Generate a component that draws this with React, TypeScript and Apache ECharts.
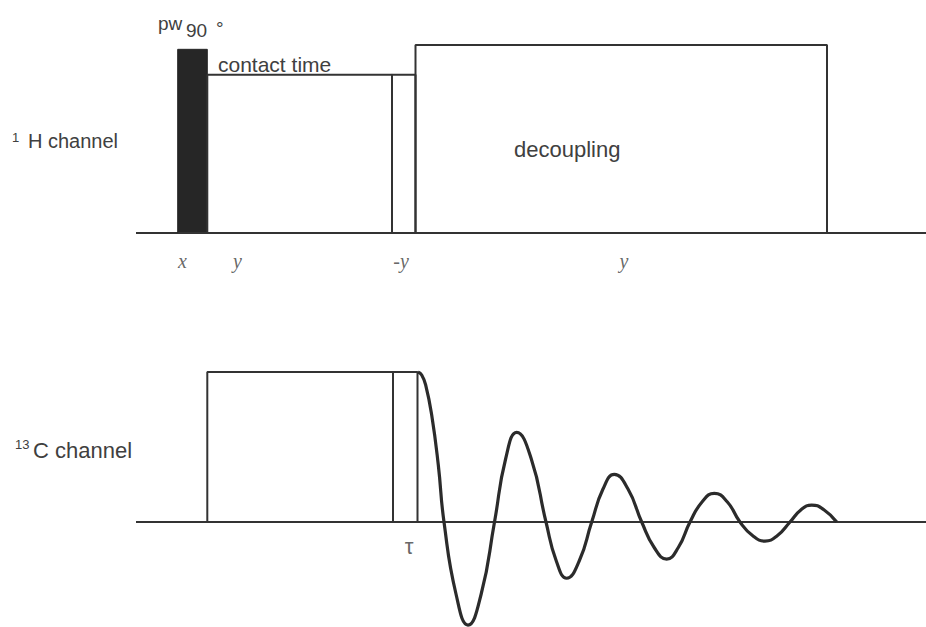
import React, { useEffect, useRef } from "react";
import * as echarts from "echarts";

// Time axis in arbitrary units (0 .. AXIS_END), shared by both channels.
const AXIS_END = 79;

// 1H channel: pulse boundaries and rf amplitude (1 = decoupling power)
const hPulseNames = ["pw90", "contact time", "flip", "decoupling"];
const hPulseStart = [4.17, 7.13, 25.6, 27.95];
const hPulseEnd = [7.13, 25.6, 27.95, 69.1];
const hPulseLevel = [0.977, 0.842, 0.842, 1.0];

// 13C channel: contact pulse and the short τ block after it
const cPulseNames = ["contact", "tau"];
const cPulseStart = [7.13, 25.7];
const cPulseEnd = [25.7, 28.15];
const cPulseLevel = [1.0, 1.0];

// 13C free induction decay: read-off points (time, relative amplitude)
const fidTime = [
  28.2, 28.57, 28.97, 29.57, 30.23, 30.8, 32.0, 33.2, 34.52, 35.85, 36.96,
  38.07, 39.53, 41.0, 42.03, 43.07, 44.32, 45.57, 46.7, 47.83, 49.2, 50.57,
  51.82, 53.07, 54.23, 55.4, 56.62, 57.83, 59.12, 60.4, 61.65, 62.9, 64.15,
  65.4, 66.48, 67.57, 68.82, 70.07,
];
const fidAmp = [
  1.0, 0.98, 0.913, 0.713, 0.38, 0, -0.48, -0.687, -0.48, 0, 0.42,
  0.597, 0.42, 0, -0.26, -0.375, -0.26, 0, 0.22, 0.318, 0.22, 0,
  -0.17, -0.247, -0.17, 0, 0.135, 0.191, 0.135, 0, -0.09, -0.127, -0.09,
  0, 0.08, 0.113, 0.08, 0,
];

// Phase labels under the 1H pulses
const hPhaseLabels = ["x", "y", "-y", "y"];
const hPhaseTimes = [4.65, 10.15, 26.5, 48.8];

// Delay label under the 13C trace
const cDelayLabels = ["τ"];
const cDelayTimes = [27.3];

const LINE = "#333333";
const TEXT = "#404040";
const SANS = '"Liberation Sans", Arial, sans-serif';
const SERIF = '"Liberation Serif", "Times New Roman", serif';

function outline(start: number, end: number, level: number) {
  return [
    [start, 0],
    [start, level],
    [end, level],
    [end, 0],
  ];
}

function lineSeries(name: string, data: number[][], gridIdx: number, extra: any = {}) {
  return {
    name,
    type: "line",
    xAxisIndex: gridIdx,
    yAxisIndex: gridIdx,
    data,
    symbol: "none",
    silent: true,
    lineStyle: { color: LINE, width: 2 },
    ...extra,
  };
}

function labelSeries(labels: string[], times: number[], level: number, gridIdx: number, labelStyle: any) {
  return {
    type: "scatter",
    xAxisIndex: gridIdx,
    yAxisIndex: gridIdx,
    silent: true,
    clip: false,
    symbolSize: 1,
    itemStyle: { color: "transparent" },
    data: labels.map((l, i) => ({ value: [times[i], level], name: l })),
    label: {
      show: true,
      position: "inside",
      formatter: (p: any) => p.name,
      color: TEXT,
      ...labelStyle,
    },
  };
}

function txt(text: string, x: number, y: number, size: number) {
  return {
    type: "text",
    x,
    y,
    silent: true,
    style: {
      text,
      fill: TEXT,
      font: `${size}px ${SANS}`,
      align: "left",
      verticalAlign: "middle",
    },
  };
}

export default function App() {
  const ref = useRef<HTMLDivElement>(null);

  useEffect(() => {
    if (!ref.current) return;
    const chart = echarts.init(ref.current, undefined, { renderer: "svg" });

    const series: any[] = [];

    // baselines
    series.push(lineSeries("1H baseline", [[0, 0], [AXIS_END, 0]], 0));
    series.push(lineSeries("13C baseline", [[0, 0], [AXIS_END, 0]], 1));

    // 1H pulses (the 90° pulse is filled)
    hPulseNames.forEach((n, i) => {
      const data = outline(hPulseStart[i], hPulseEnd[i], hPulseLevel[i]);
      const extra =
        i === 0
          ? { areaStyle: { color: "#262626", opacity: 1, origin: 0 }, lineStyle: { color: "#262626", width: 1 }, z: 3 }
          : {};
      series.push(lineSeries(n, data, 0, extra));
    });

    // 13C pulses
    cPulseNames.forEach((n, i) => {
      series.push(lineSeries(n, outline(cPulseStart[i], cPulseEnd[i], cPulseLevel[i]), 1));
    });

    // FID
    series.push(
      lineSeries(
        "FID",
        fidTime.map((t, i) => [t, fidAmp[i]]),
        1,
        { smooth: 0.5, lineStyle: { color: "#2b2b2b", width: 3.2 }, z: 4 }
      )
    );

    // phase and delay labels
    series.push(
      labelSeries(hPhaseLabels, hPhaseTimes, -0.148, 0, {
        fontFamily: SERIF,
        fontStyle: "italic",
        fontSize: 20,
      })
    );
    series.push(
      labelSeries(cDelayLabels, cDelayTimes, -0.165, 1, {
        fontFamily: SANS,
        fontSize: 22,
      })
    );

    chart.setOption({
      animation: false,
      backgroundColor: "#ffffff",
      grid: [
        { left: 136, right: 0, top: 45, height: 225.6 },
        { left: 136, right: 0, top: 372, height: 255 },
      ],
      xAxis: [
        { type: "value", gridIndex: 0, min: 0, max: AXIS_END, show: false },
        { type: "value", gridIndex: 1, min: 0, max: AXIS_END, show: false },
      ],
      yAxis: [
        { type: "value", gridIndex: 0, min: -0.2, max: 1, show: false },
        { type: "value", gridIndex: 1, min: -0.7, max: 1, show: false },
      ],
      series,
      graphic: [
        txt("pw", 158, 23.5, 19),
        txt("90", 186, 30, 19),
        txt("°", 216, 28, 19),
        txt("contact time", 218, 64.5, 21),
        txt("1", 12, 137, 13),
        txt("H channel", 28, 141, 20),
        txt("decoupling", 514, 149, 22),
        txt("13", 15, 444, 13),
        txt("C channel", 33, 450, 22),
      ],
    });

    return () => chart.dispose();
  }, []);

  return (
    <div
      ref={ref}
      style={{ position: "fixed", left: 0, top: 0, width: 926, height: 627, background: "#fff" }}
    />
  );
}
